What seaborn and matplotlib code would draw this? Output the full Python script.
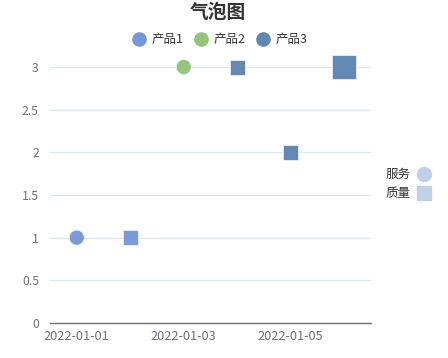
import matplotlib
matplotlib.use("Agg")
import matplotlib.pyplot as plt
import seaborn as sns
import pandas as pd
from matplotlib.lines import Line2D

# ---- data ----
dates = ['2022-01-01', '2022-01-02', '2022-01-03', '2022-01-04', '2022-01-05', '2022-01-06']
products = ['产品1', '产品1', '产品2', '产品3', '产品3', '产品3']
point_dates = ['2022-01-01', '2022-01-02', '2022-01-03', '2022-01-04', '2022-01-05', '2022-01-06']
values = [1, 1, 3, 3, 2, 3]
metrics = ['服务', '质量', '服务', '质量', '质量', '质量']
bubble = [15, 15, 15, 15, 15, 24]
yticks = [0, 0.5, 1, 1.5, 2, 2.5, 3]
xtick_labels = ['2022-01-01', '2022-01-03', '2022-01-05']

colors = {'产品1': '#7797d6', '产品2': '#93c47a', '产品3': '#5f87b0'}
markers = {'服务': 'o', '质量': 's'}

df = pd.DataFrame({'date': point_dates, 'value': values, 'product': products,
                   'metric': metrics, 'bubble': bubble})

sns.set_theme(style='white')
plt.rcParams['font.family'] = ['Noto Sans CJK SC', 'DejaVu Sans']

fig = plt.figure(figsize=(4.48, 3.58), dpi=100)
ax = fig.add_axes([50/448, 35/358, 321/448, 256/358])

ax.set_xlim(-0.5, 5.5)
ax.set_ylim(0, 3)
sns.scatterplot(data=df, x='date', y='value', hue='product', style='metric', size='bubble',
                palette=colors, markers=markers,
                sizes={15: (15*0.72)**2, 24: (24*0.72)**2},
                edgecolor='#e8eef7', linewidth=0.6, alpha=0.98, legend=False,
                ax=ax, zorder=3, clip_on=False)
ax.set_xlim(-0.5, 5.5)
ax.set_ylim(0, 3)

# grid
ax.set_yticks(yticks)
ax.set_yticklabels(['0', '0.5', '1', '1.5', '2', '2.5', '3'])
ax.yaxis.grid(True, color='#e0e6f1', linewidth=1)
ax.xaxis.grid(False)
ax.set_axisbelow(True)
for s in ['top', 'right', 'left']:
    ax.spines[s].set_visible(False)
ax.spines['bottom'].set_color('#6e7079')
ax.spines['bottom'].set_linewidth(1)

ax.set_xticks([dates.index(d) for d in xtick_labels])
ax.set_xticklabels(xtick_labels)
ax.set_xticks([-0.5, 1.5, 3.5, 5.5], minor=True)
ax.tick_params(axis='x', which='major', length=0, pad=5, labelsize=9.2, labelcolor='#6e7079')
ax.tick_params(axis='x', which='minor', length=4, width=1, color='#6e7079', direction='out')
ax.tick_params(axis='y', length=0, pad=8, labelsize=8.8, labelcolor='#6e7079')
ax.set_xlabel('')
ax.set_ylabel('')

fig.text(218/448, 1 - 12.5/358, '气泡图', ha='center', va='center', fontsize=13.5,
         fontweight='bold', color='#333333')

handles = [Line2D([], [], marker='o', linestyle='', markersize=9.5, markerfacecolor=colors[p],
                  markeredgecolor=colors[p]) for p in ['产品1', '产品2', '产品3']]
leg = fig.legend(handles, ['产品1', '产品2', '产品3'], loc='center', bbox_to_anchor=(220/448, 1 - 40/358),
                 ncol=3, frameon=False, fontsize=9, handletextpad=0.5, columnspacing=0.9,
                 handlelength=1.0)
for t in leg.get_texts():
    t.set_color('#333333')

h2 = [Line2D([], [], marker='o', linestyle='', markersize=10, markerfacecolor='#c0d0e8',
             markeredgecolor='#c0d0e8'),
      Line2D([], [], marker='s', linestyle='', markersize=10, markerfacecolor='#c0d0e8',
             markeredgecolor='#c0d0e8')]
leg2 = fig.legend(h2, ['服务', '质量'], loc='center', bbox_to_anchor=(408/448, 1 - 184/358),
                  frameon=False, fontsize=9, markerfirst=False, handletextpad=0.6,
                  labelspacing=0.5, handlelength=1.0)
for t in leg2.get_texts():
    t.set_color('#333333')

fig.savefig('out.png', dpi=100)
